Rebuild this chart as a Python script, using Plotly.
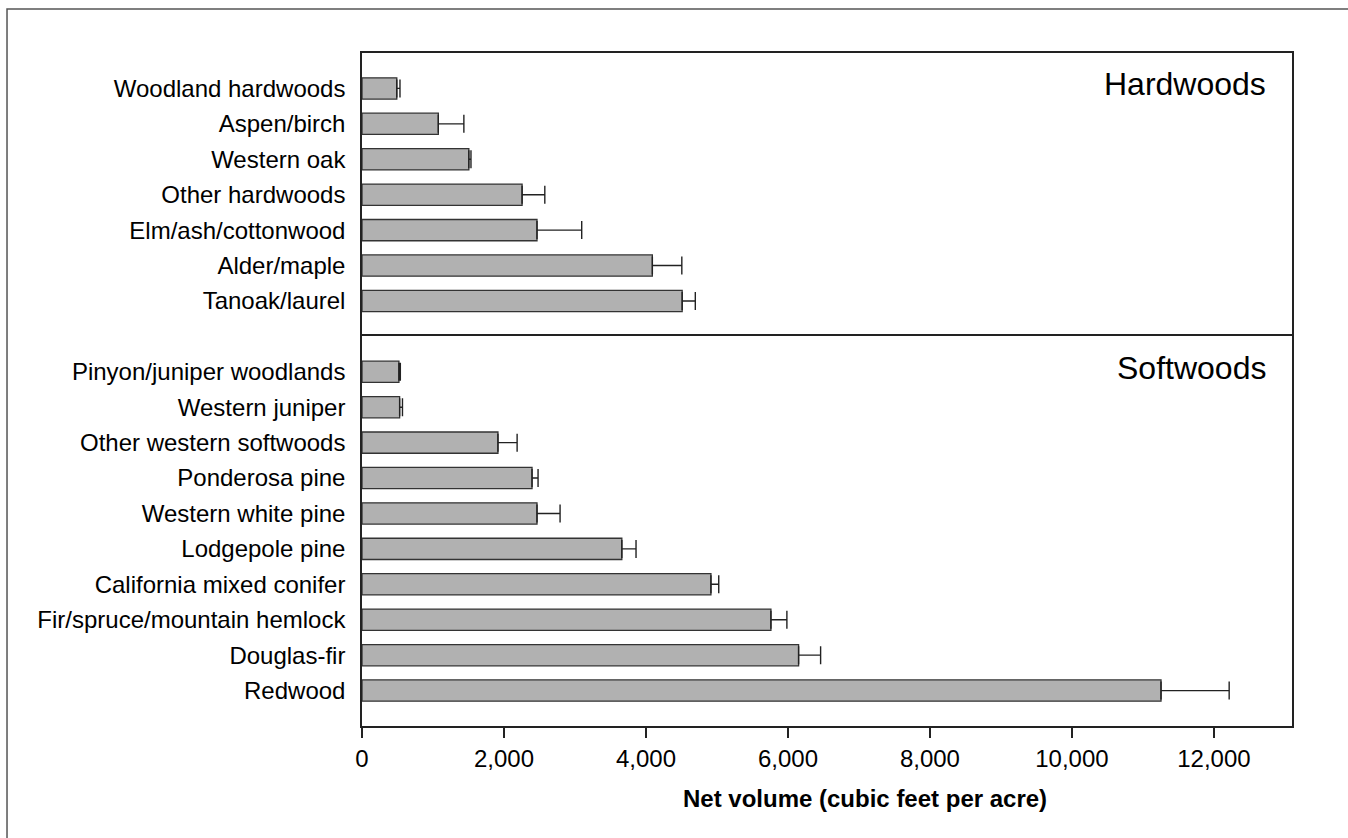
import plotly.graph_objects as go
from plotly.subplots import make_subplots

hard_names = ["Woodland hardwoods", "Aspen/birch", "Western oak", "Other hardwoods",
              "Elm/ash/cottonwood", "Alder/maple", "Tanoak/laurel"]
hard_vals = [490, 1075, 1505, 2255, 2465, 4090, 4510]
hard_err = [45, 360, 30, 320, 630, 415, 185]

soft_names = ["Pinyon/juniper woodlands", "Western juniper", "Other western softwoods",
              "Ponderosa pine", "Western white pine", "Lodgepole pine",
              "California mixed conifer", "Fir/spruce/mountain hemlock", "Douglas-fir", "Redwood"]
soft_vals = [520, 530, 1915, 2395, 2465, 3660, 4915, 5760, 6150, 11255]
soft_err = [20, 40, 270, 85, 325, 200, 110, 225, 310, 960]

x_ticks = [0, 2000, 4000, 6000, 8000, 10000, 12000]
x_labels = ["0", "2,000", "4,000", "6,000", "8,000", "10,000", "12,000"]

FONT = "Arial, Liberation Sans, Helvetica, sans-serif"
BAR_FILL = "#b1b1b1"
EDGE = "#333333"

fig = make_subplots(rows=2, cols=1, shared_xaxes=True, vertical_spacing=0,
                    row_heights=[len(hard_names) + 1, len(soft_names) + 1])

for row, names, vals, errs in [(1, hard_names, hard_vals, hard_err),
                               (2, soft_names, soft_vals, soft_err)]:
    fig.add_trace(go.Bar(
        y=names, x=vals, orientation="h", width=0.6,
        marker=dict(color=BAR_FILL, line=dict(color=EDGE, width=1.3)),
        error_x=dict(type="data", array=errs, symmetric=False,
                     arrayminus=[0] * len(errs), color="#222222",
                     thickness=1.4, width=9),
        showlegend=False, hoverinfo="x+y"), row=row, col=1)
    fig.update_yaxes(row=row, col=1, type="category",
                     range=[len(names), -1], ticks="", showgrid=False,
                     showline=True, linecolor="#222222", linewidth=1.5, mirror=True,
                     ticklabelstandoff=10,
                     tickfont=dict(family=FONT, size=24, color="black"))

fig.update_xaxes(range=[0, 13100], showgrid=False, zeroline=False,
                 tickvals=x_ticks, ticktext=x_labels)
# top panel: only its top border line
fig.update_xaxes(row=1, col=1, side="top", showline=True, mirror=False,
                 linecolor="#222222", linewidth=1.5, showticklabels=False, ticks="")
# bottom panel: full frame (its top border forms the divider)
fig.update_xaxes(row=2, col=1, showline=True, mirror=True,
                 linecolor="#222222", linewidth=1.5,
                 ticks="outside", ticklen=10, tickwidth=1.5, tickcolor="#222222",
                 tickfont=dict(family=FONT, size=24, color="black"))

fig.add_annotation(text="Hardwoods", xref="x domain", yref="y domain",
                   x=0.974, y=0.89, xanchor="right", yanchor="middle",
                   showarrow=False, font=dict(family=FONT, size=32, color="black"))
fig.add_annotation(text="Softwoods", xref="x2 domain", yref="y2 domain",
                   x=0.974, y=0.919, xanchor="right", yanchor="middle",
                   showarrow=False, font=dict(family=FONT, size=32, color="black"))
fig.add_annotation(text="<b>Net volume (cubic feet per acre)</b>", xref="paper", yref="paper",
                   x=0.5405, y=-0.107, xanchor="center", yanchor="middle",
                   showarrow=False, font=dict(family=FONT, size=24, color="black"))

# outer frame
fig.add_shape(type="rect", xref="paper", yref="paper",
              x0=-0.3817, x1=1.08, y0=-0.2, y1=1.0654,
              line=dict(color="#555555", width=1.5), fillcolor="rgba(0,0,0,0)")

fig.update_layout(width=1348, height=838,
                  margin=dict(l=362, r=56, t=53, b=112),
                  plot_bgcolor="white", paper_bgcolor="white",
                  bargap=0.4, font=dict(family=FONT, color="black"))

fig.write_html("out.html", config={"displayModeBar": False},
               post_script="document.body.style.margin='0px';document.body.style.overflow='hidden';")
